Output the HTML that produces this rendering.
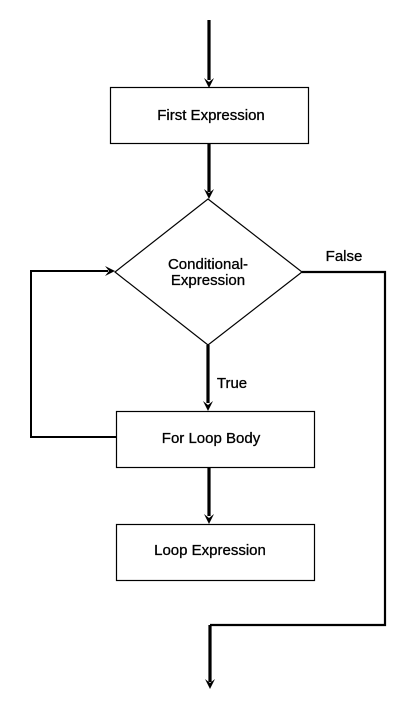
<!DOCTYPE html>
<html><head><style>html,body{margin:0;padding:0;background:#fff}svg{display:block}</style></head>
<body>
<svg width="409" height="720" viewBox="0 0 409 720" xmlns="http://www.w3.org/2000/svg" font-family="Liberation Sans, Arial, sans-serif" font-size="15" fill="#000">
<g stroke="#000" fill="none">
<rect x="110.5" y="87.5" width="198" height="56" stroke-width="1.2"/>
<polygon points="208,199 302,272 208,345 115,272" stroke-width="1.2"/>
<rect x="116.5" y="411.5" width="198" height="56" stroke-width="1.2"/>
<rect x="116.5" y="524.5" width="198" height="56" stroke-width="1.2"/>
<path d="M209 20V80 M209 143V192 M208 345V403 M209 467V516 M210 625V682" stroke-width="3.2"/>
<path d="M116 437H31V271H108" stroke-width="2"/>
<path d="M302 272H385V625H210" stroke-width="2.2"/>
</g>
<g fill="#000">
<path d="M204 78L209 88L214 78L209 82Z"/>
<path d="M204 189L209 199L214 189L209 193Z"/>
<path d="M203 401L208 411L213 401L208 405Z"/>
<path d="M204 514L209 524L214 514L209 518Z"/>
<path d="M205 679L210 689L215 679L210 683Z"/>
<path d="M105 266L115 271L105 276L109 271Z"/>
</g>
<g stroke="#000" stroke-width="0.3">
<text x="211" y="120" text-anchor="middle">First Expression</text>
<text x="208" y="269" text-anchor="middle">Conditional-</text>
<text x="208" y="285" text-anchor="middle">Expression</text>
<text x="344" y="261" text-anchor="middle">False</text>
<text x="232" y="388" text-anchor="middle">True</text>
<text x="211" y="443" text-anchor="middle">For Loop Body</text>
<text x="210" y="555" text-anchor="middle">Loop Expression</text>
</g>
</svg>
</body></html>
